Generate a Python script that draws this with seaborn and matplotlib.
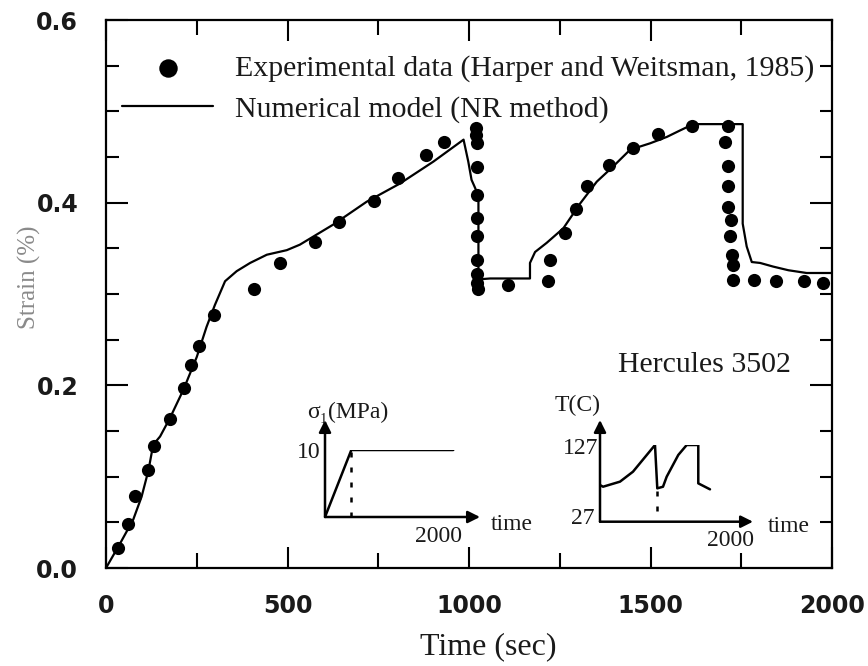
import numpy as np
import pandas as pd
import matplotlib
matplotlib.use("Agg")
import matplotlib.pyplot as plt
import seaborn as sns
from matplotlib.ticker import MultipleLocator

# ---------------- data ----------------
exp_time = [34, 61, 80, 117, 133, 176, 215, 233, 257, 298, 408, 479, 576, 643, 738, 805, 881, 931,
            1020, 1020, 1021, 1022, 1022, 1022, 1022, 1022, 1023, 1023, 1024,
            1108, 1218, 1223, 1264, 1295, 1326, 1386, 1451, 1522, 1613, 1714,
            1705, 1714, 1714, 1714, 1721, 1719, 1724, 1728, 1728, 1785, 1846, 1923, 1974]
exp_strain = [0.022, 0.048, 0.079, 0.107, 0.134, 0.163, 0.197, 0.222, 0.243, 0.277, 0.306, 0.334,
              0.357, 0.379, 0.402, 0.427, 0.452, 0.466,
              0.482, 0.474, 0.465, 0.439, 0.408, 0.383, 0.364, 0.337, 0.322, 0.312, 0.305,
              0.310, 0.314, 0.337, 0.367, 0.393, 0.418, 0.441, 0.460, 0.475, 0.484, 0.484,
              0.466, 0.440, 0.418, 0.395, 0.381, 0.363, 0.343, 0.332, 0.315, 0.315, 0.314, 0.314, 0.312]

model_time = [0, 39, 75, 98, 117, 130, 149, 176, 213, 250, 277, 300, 328, 360, 397, 443, 498, 534,
              626, 718, 810, 902, 985, 998, 1007, 1017, 1026, 1026, 1058, 1168, 1168, 1182, 1214,
              1260, 1306, 1352, 1398, 1444, 1499, 1545, 1581, 1618, 1754, 1754, 1765, 1779, 1802,
              1838, 1880, 1930, 2000]
model_strain = [0.0, 0.027, 0.053, 0.078, 0.107, 0.135, 0.144, 0.164, 0.195, 0.231, 0.264, 0.288,
                0.314, 0.325, 0.334, 0.343, 0.348, 0.354, 0.376, 0.401, 0.421, 0.445, 0.469, 0.445,
                0.425, 0.416, 0.407, 0.316, 0.317, 0.317, 0.334, 0.346, 0.356, 0.372, 0.399, 0.423,
                0.440, 0.458, 0.465, 0.472, 0.479, 0.486, 0.486, 0.377, 0.352, 0.335, 0.334, 0.330,
                0.326, 0.323, 0.323]

stress_time = [0, 390, 1900]
stress_val = [0, 10, 10]

temp_time = [0, 54, 357, 589, 982, 1023, 1125, 1191, 1398, 1548, 1755, 1755, 1964]
temp_val = [74.8, 72.6, 79.2, 92.2, 127, 70.5, 72.6, 85.7, 114, 127, 127, 77, 69.2]

x_ticks = [0, 500, 1000, 1500, 2000]
y_ticks = [0.0, 0.2, 0.4, 0.6]
x_ticklabels = ["0", "500", "1000", "1500", "2000"]
y_ticklabels = ["0.0", "0.2", "0.4", "0.6"]

legend_labels = ["Experimental data (Harper and Weitsman, 1985)", "Numerical model (NR method)"]

# ---------------- style ----------------
sns.set_theme(style="ticks")
SERIF = ["Liberation Serif", "DejaVu Serif"]
plt.rcParams["font.family"] = SERIF
TXT = "#1a1a1a"

W, H = 868, 666
fig = plt.figure(figsize=(W / 100, H / 100), dpi=100)

def px_axes(x0, x1, y_top, y_bot):
    return fig.add_axes([x0 / W, (H - y_bot) / H, (x1 - x0) / W, (y_bot - y_top) / H])

def ptext(x, y, s, size=17, ha="center", va="center", **kw):
    fig.text(x / W, 1 - y / H, s, fontsize=size, ha=ha, va=va, color=TXT, family=SERIF, **kw)

ax = px_axes(106, 832, 20, 568)

exp_df = pd.DataFrame({"time": exp_time, "strain": exp_strain})
mod_df = pd.DataFrame({"time": model_time, "strain": model_strain})

sns.lineplot(data=mod_df, x="time", y="strain", sort=False, estimator=None, ax=ax,
             color="black", linewidth=1.6, label=legend_labels[1], zorder=2)
sns.scatterplot(data=exp_df, x="time", y="strain", ax=ax, color="black", marker="o",
                s=90, linewidth=0, label=legend_labels[0], zorder=3)

ax.set_xlim(0, 2000)
ax.set_ylim(0, 0.6)
ax.set_xticks(x_ticks)
ax.set_xticklabels(x_ticklabels)
ax.set_yticks(y_ticks)
ax.set_yticklabels(y_ticklabels)
ax.xaxis.set_minor_locator(MultipleLocator(250))
ax.yaxis.set_minor_locator(MultipleLocator(0.05))
ax.tick_params(which="both", direction="in", top=True, right=True, color="black", width=1.5)
ax.tick_params(axis="x", which="major", length=15, pad=19)
ax.tick_params(axis="x", which="minor", length=11)
ax.tick_params(axis="y", which="major", length=16, pad=20)
ax.tick_params(axis="y", which="minor", length=9)
for lab in ax.get_xticklabels() + ax.get_yticklabels():
    lab.set_fontfamily("DejaVu Sans")
    lab.set_fontweight("bold")
    lab.set_fontsize(17)
    lab.set_color(TXT)
for sp in ax.spines.values():
    sp.set_linewidth(1.6)
    sp.set_color("black")

ax.set_xlabel("Time (sec)", fontsize=23, color=TXT, family=SERIF)
ax.set_ylabel("Strain (%)", fontsize=18, color="#8a8a8a", family=SERIF)
ax.xaxis.set_label_coords(0.526, -0.118)
ax.yaxis.set_label_coords(-0.09, 0.53)

handles, labels = ax.get_legend_handles_labels()
order = [labels.index(legend_labels[0]), labels.index(legend_labels[1])]
leg = ax.legend([handles[i] for i in order], [labels[i] for i in order],
                loc="upper left", bbox_to_anchor=(0.022, 0.936), frameon=False,
                fontsize=21.5, handlelength=3.05, handletextpad=0.72, labelspacing=0.45,
                borderaxespad=0.0, borderpad=0.0, markerscale=1.4)
for t in leg.get_texts():
    t.set_color(TXT)

ax.text((618 - 106) / 726 * 2000, (568 - 365) / 548 * 0.6, "Hercules 3502",
        fontsize=21.5, color=TXT, va="center", ha="left", family=SERIF)

arrow_kw = dict(arrowstyle="-|>", color="black", lw=1.8, mutation_scale=18,
                shrinkA=0, shrinkB=0)

# ---------------- stress inset ----------------
ai = px_axes(325, 460, 450, 517)
sns.lineplot(x=stress_time, y=stress_val, ax=ai, color="black", linewidth=1.8,
             sort=False, estimator=None)
ai.set_xlim(0, 2000)
ai.set_ylim(0, 10)
ai.axis("off")
ai.annotate("", xy=((480 - 325) / 135, 0), xytext=(0, 0), xycoords="axes fraction", arrowprops=arrow_kw)
ai.annotate("", xy=(0, (517 - 420) / 67), xytext=(0, 0), xycoords="axes fraction", arrowprops=arrow_kw)
ai.plot([stress_time[1], stress_time[1]], [0, stress_val[1]], color="black", lw=1.8,
        ls=(0, (2, 4)))
ptext(321, 452, "10", ha="right")
ptext(307, 412, "σ₁(MPa)", ha="left")
ptext(439, 537, "2000")
ptext(491, 525, "time", ha="left")

# ---------------- temperature inset ----------------
at = px_axes(600, 712, 445, 521.7)
sns.lineplot(x=temp_time, y=temp_val, ax=at, color="black", linewidth=1.8,
             sort=False, estimator=None)
at.set_xlim(0, 2000)
at.set_ylim(27, 127)
at.axis("off")
at.annotate("", xy=((753 - 600) / 112, 0), xytext=(0, 0), xycoords="axes fraction", arrowprops=arrow_kw)
at.annotate("", xy=(0, (521.7 - 420) / 76.7), xytext=(0, 0), xycoords="axes fraction", arrowprops=arrow_kw)
at.plot([1012, 1012], [41, 68], color="black", lw=1.8, ls=(0, (2, 4)))
ptext(598, 448, "127", ha="right")
ptext(594, 518, "27", ha="right")
ptext(555, 405, "T(C)", ha="left")
ptext(730, 540, "2000")
ptext(768, 527, "time", ha="left")

fig.savefig("out.png", dpi=100)
